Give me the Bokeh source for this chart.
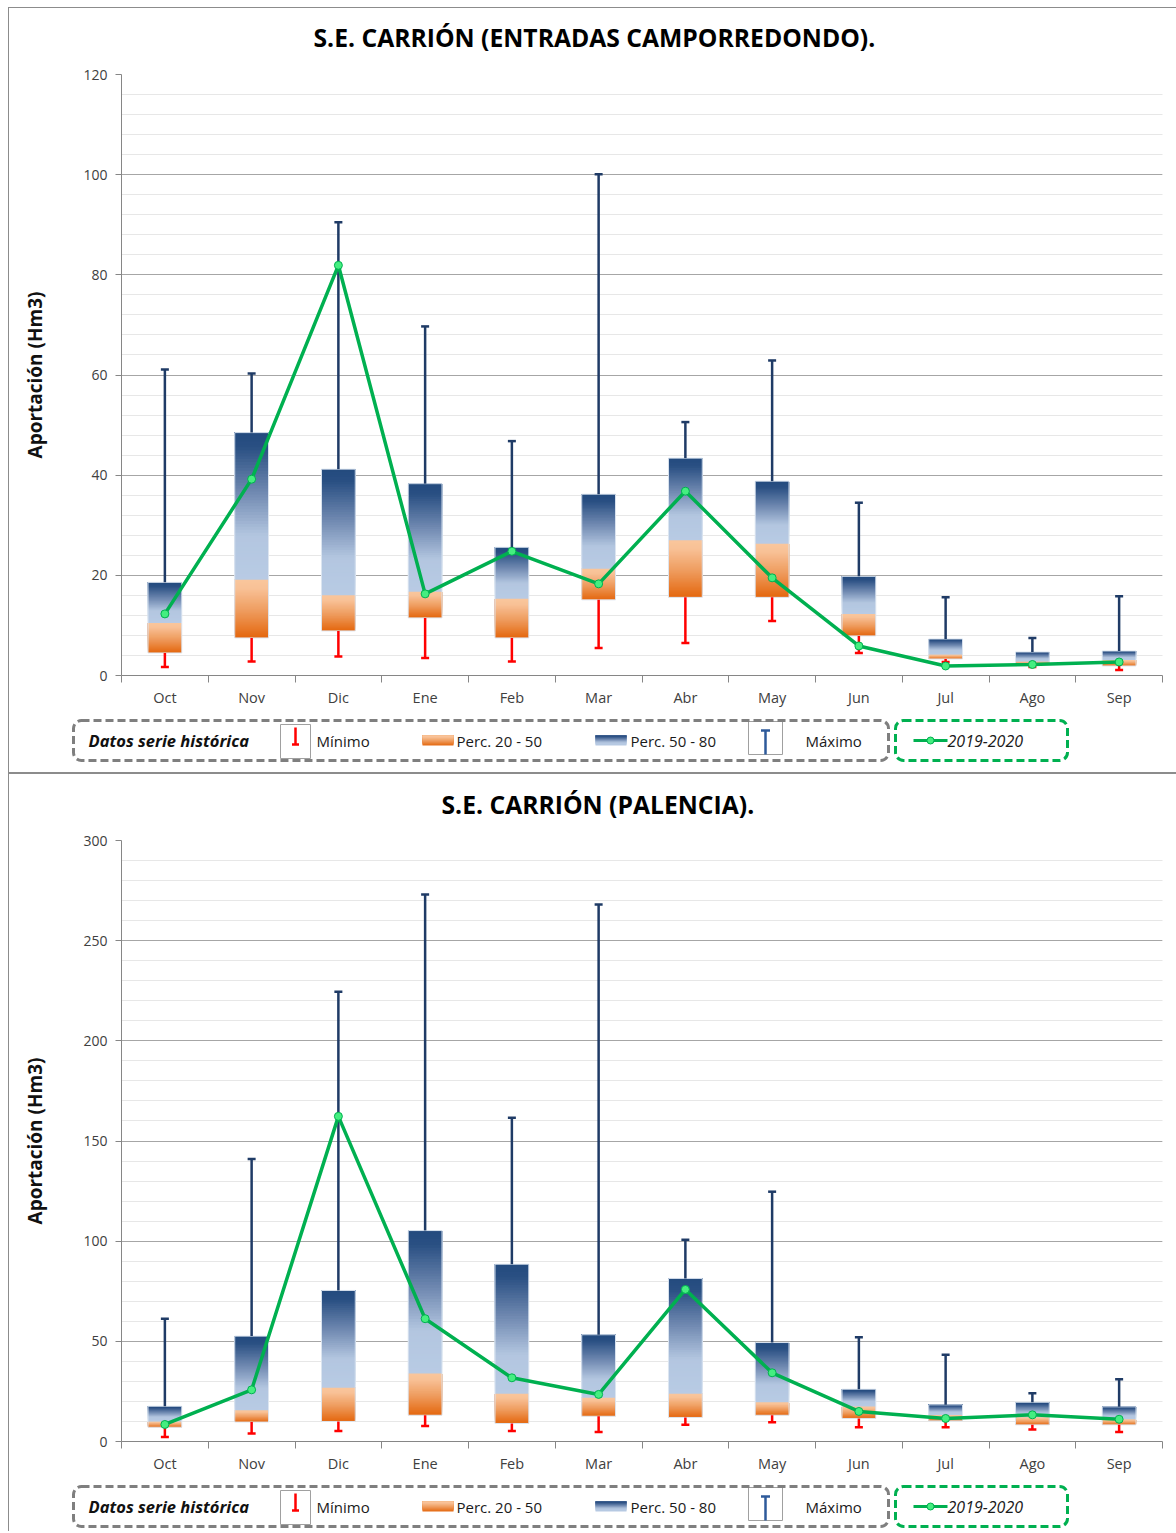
import numpy as np
from bokeh.plotting import figure
from bokeh.models import Range1d, FixedTicker, BoxAnnotation, Title
from bokeh.core.properties import value
from bokeh.embed import file_html
from bokeh.resources import INLINE

months = ["Oct", "Nov", "Dic", "Ene", "Feb", "Mar", "Abr", "May", "Jun", "Jul", "Ago", "Sep"]

# --- S.E. CARRIÓN (ENTRADAS CAMPORREDONDO) ---
c1_min = [1.7, 2.8, 3.8, 3.5, 2.8, 5.5, 6.5, 10.9, 4.5, 2.7, 1.7, 1.1]
c1_p20 = [4.5, 7.5, 8.9, 11.5, 7.5, 15.1, 15.6, 15.6, 7.9, 3.3, 2.3, 1.9]
c1_p50 = [10.5, 19.1, 16.0, 16.7, 15.3, 21.3, 27.0, 26.3, 12.3, 4.2, 2.8, 3.1]
c1_p80 = [18.6, 48.5, 41.2, 38.3, 25.6, 36.2, 43.4, 38.8, 19.8, 7.3, 4.7, 4.9]
c1_max = [61.1, 60.3, 90.5, 69.7, 46.8, 100.1, 50.6, 62.9, 34.5, 15.6, 7.5, 15.8]
c1_cur = [12.3, 39.2, 81.9, 16.3, 24.8, 18.3, 36.8, 19.5, 5.9, 1.9, 2.2, 2.7]

# --- S.E. CARRIÓN (PALENCIA) ---
c2_min = [2.2, 4.0, 5.2, 7.7, 5.3, 4.7, 8.3, 9.6, 7.1, 7.1, 6.0, 4.7]
c2_p20 = [7.1, 9.7, 10.0, 13.1, 9.0, 12.6, 12.0, 13.1, 11.5, 10.3, 8.3, 8.3]
c2_p50 = [10.0, 15.6, 26.8, 34.0, 23.8, 21.8, 23.8, 19.6, 17.5, 13.3, 12.1, 11.1]
c2_p80 = [17.6, 52.6, 75.4, 105.3, 88.5, 53.3, 81.4, 49.4, 26.1, 18.3, 19.6, 17.3]
c2_max = [61.3, 141.0, 224.5, 273.0, 161.6, 268.0, 100.7, 124.7, 52.1, 43.3, 24.1, 31.1]
c2_cur = [8.5, 25.8, 162.3, 61.3, 31.8, 23.5, 75.9, 34.3, 15.0, 11.5, 13.3, 11.1]

FONT = "Open Sans"
FRAME = "#8c8c8c"
BLUE_STOPS = [(0.0, "#234a7e"), (0.1, "#2a5083"), (0.4, "#6f88b0"), (0.7, "#b3c6e0"), (1.0, "#b8cbe4")]
ORANGE_STOPS = [(0.0, "#f9c69c"), (0.15, "#f8c196"), (0.55, "#ee9a5c"), (1.0, "#e4670e")]
W = 1168  # figure width (page has an 8px left offset, like the reference)


def _rgb(h):
    h = h.lstrip("#")
    return tuple(int(h[i:i + 2], 16) for i in (0, 2, 4))


def grad_color(stops, t):
    for (t0, c0), (t1, c1) in zip(stops[:-1], stops[1:]):
        if t <= t1:
            f = 0 if t1 == t0 else (t - t0) / (t1 - t0)
            a, b = _rgb(c0), _rgb(c1)
            return "#%02x%02x%02x" % tuple(int(round(a[i] + (b[i] - a[i]) * f)) for i in range(3))
    return stops[-1][1]


def grad_quads(p, xc, bottoms, tops, stops, half, n=50):
    # vertical gradient: stacked slices, each running up to the box top so that no seams show
    L, R, B, T, C = [], [], [], [], []
    for x, b, t in zip(xc, bottoms, tops):
        h = t - b
        for k in range(n):
            L.append(x - half)
            R.append(x + half)
            B.append(b + h * k / n)
            T.append(t)
            C.append(grad_color(stops, 1 - (k + 0.5) / n))
    p.quad(left=L, right=R, bottom=B, top=T, fill_color=C, line_color=None)


def make_main(title, title_offset, ymax, major, minor, mins, p20, p50, p80, maxs, cur,
              height, top_border, styles):
    p = figure(width=W, height=height, x_range=Range1d(0, 12), y_range=Range1d(0, ymax),
               output_backend="svg", toolbar_location=None,
               min_border_left=113, min_border_right=14, min_border_top=top_border, min_border_bottom=37)
    p.outline_line_color = None
    p.border_fill_alpha = 0
    p.styles = styles
    xc = [i + 0.5 for i in range(len(months))]
    half = 0.195
    # boxes
    grad_quads(p, xc, p20, p50, ORANGE_STOPS, half)
    grad_quads(p, xc, p50, p80, BLUE_STOPS, half)
    p.quad(left=[x - half for x in xc], right=[x + half for x in xc], bottom=p20, top=p80,
           fill_color=None, line_color="#dde6f1", line_width=1)
    # whiskers
    navy = "#1f3b66"
    p.segment(x0=xc, y0=p80, x1=xc, y1=maxs, line_color=navy, line_width=2.5)
    p.scatter(xc, maxs, marker="dash", size=8, line_color=navy, line_width=2.5)
    p.segment(x0=xc, y0=p20, x1=xc, y1=mins, line_color="#ff0000", line_width=2.5)
    p.scatter(xc, mins, marker="dash", size=8, line_color="#ff0000", line_width=2.5)
    # current year
    p.line(xc, cur, line_color="#00b050", line_width=3.5)
    p.scatter(xc, cur, size=8, fill_color="#45ee80", line_color="#00b050", line_width=1)

    # axes
    p.yaxis.ticker = FixedTicker(ticks=list(range(0, ymax + 1, major)),
                                 minor_ticks=list(range(0, ymax + 1, minor)))
    p.yaxis.minor_tick_line_color = None
    p.yaxis.major_tick_out = 6
    p.yaxis.major_tick_in = 0
    p.yaxis.major_label_standoff = 8
    p.yaxis.axis_line_color = "#868686"
    p.yaxis.major_tick_line_color = "#868686"
    p.yaxis.major_label_text_font = FONT
    p.yaxis.major_label_text_font_size = "14px"
    p.yaxis.major_label_text_color = "#404040"
    p.yaxis.axis_label = "Aportación (Hm3)"
    p.yaxis.axis_label_text_font = FONT
    p.yaxis.axis_label_text_font_size = "19px"
    p.yaxis.axis_label_text_font_style = "bold"
    p.yaxis.axis_label_text_color = "#111111"
    p.yaxis.axis_label_standoff = 32

    p.xaxis.ticker = FixedTicker(ticks=xc, minor_ticks=list(range(13)))
    p.xaxis.major_label_overrides = {x: m for x, m in zip(xc, months)}
    p.xaxis.major_tick_line_color = None
    p.xaxis.major_tick_out = 0
    p.xaxis.major_tick_in = 0
    p.xaxis.minor_tick_out = 7
    p.xaxis.minor_tick_in = 0
    p.xaxis.minor_tick_line_color = "#868686"
    p.xaxis.axis_line_color = "#868686"
    p.xaxis.major_label_standoff = 5
    p.xaxis.major_label_text_font = FONT
    p.xaxis.major_label_text_font_size = "14.5px"
    p.xaxis.major_label_text_color = "#404040"

    p.xgrid.grid_line_color = None
    p.ygrid.grid_line_color = "#a6a6a6"
    p.ygrid.minor_grid_line_color = "#cfcfcf"
    p.ygrid.minor_grid_line_dash = "1 1"

    p.title = Title(text=title, align="left", offset=title_offset, standoff=top_border - 37,
                    vertical_align="top",
                    text_font=FONT, text_font_size="24.7px", text_font_style="bold", text_color="#000000")
    return p


def make_legend(height, top, styles):
    # x data = page x; y data = pixels from the figure bottom
    lg = figure(width=W, height=height, x_range=Range1d(8, 8 + W), y_range=Range1d(0, height),
                output_backend="svg", toolbar_location=None, min_border=0)
    lg.axis.visible = False
    lg.grid.grid_line_color = None
    lg.outline_line_color = None
    lg.border_fill_alpha = 0
    lg.background_fill_alpha = 0
    lg.styles = styles
    Y = lambda off: height - (top + off)
    cy = Y(20)
    lg.add_layout(BoxAnnotation(left=73, right=888, top=Y(0), bottom=Y(40), fill_alpha=0,
                                line_color="#7f7f7f", line_alpha=1, line_width=3, line_dash="8 4",
                                border_radius=8))
    lg.add_layout(BoxAnnotation(left=895, right=1067, top=Y(0), bottom=Y(40), fill_alpha=0,
                                line_color="#00b050", line_alpha=1, line_width=3, line_dash="8 4",
                                border_radius=8))
    tf = value(FONT)
    lg.text([88], [cy], text=["Datos serie histórica"], text_font=tf, text_font_size="16.5px",
            text_font_style="bold italic", text_baseline="middle", text_color="#111111")
    # minimum symbol
    lg.quad(left=[280], right=[310], top=[Y(4)], bottom=[Y(38)], fill_color="white", line_color="#a0a0a0")
    lg.segment(x0=[295], y0=[Y(7)], x1=[295], y1=[Y(24)], line_color="#ff0000", line_width=2.5)
    lg.scatter([295], [Y(24)], marker="dash", size=7, line_color="#ff0000", line_width=2.5)
    lg.text([316], [cy], text=["Mínimo"], text_font=tf, text_font_size="15px", text_baseline="middle",
            text_color="#1a1a1a")
    # percentile swatches
    grad_quads(lg, [437.5], [Y(25)], [Y(15)], ORANGE_STOPS, 15.5, n=10)
    lg.text([456], [cy], text=["Perc. 20 - 50"], text_font=tf, text_font_size="15px",
            text_baseline="middle", text_color="#1a1a1a")
    grad_quads(lg, [610.5], [Y(25)], [Y(15)], BLUE_STOPS, 15.5, n=10)
    lg.text([630], [cy], text=["Perc. 50 - 80"], text_font=tf, text_font_size="15px",
            text_baseline="middle", text_color="#1a1a1a")
    # maximum symbol
    lg.quad(left=[748], right=[782], top=[Y(1)], bottom=[Y(34)], fill_color="white", line_color="#a0a0a0")
    lg.segment(x0=[765], y0=[Y(10)], x1=[765], y1=[Y(34)], line_color="#2e5a9a", line_width=2.5)
    lg.scatter([765], [Y(10)], marker="dash", size=9, line_color="#2e5a9a", line_width=2.5)
    lg.text([805], [cy], text=["Máximo"], text_font=tf, text_font_size="15px", text_baseline="middle",
            text_color="#1a1a1a")
    # current year
    lg.segment(x0=[913], y0=[cy], x1=[947], y1=[cy], line_color="#00b050", line_width=3)
    lg.scatter([930], [cy], size=7, fill_color="#45ee80", line_color="#00b050")
    lg.text([947], [cy], text=["2019-2020"], text_font=tf, text_font_size="16px",
            text_font_style="italic", text_baseline="middle", text_color="#1a1a1a")
    return lg


# chart frames: a 1px grey line on the left and on top (drawn with inset shadows)
s_first = {"margin-left": "8px",
           "box-shadow": f"inset 0 7px 0 0 #ffffff, inset 1px 8px 0 0 {FRAME}"}
s_second = {"margin-left": "8px",
            "box-shadow": f"inset 1px 0 0 0 {FRAME}, inset 0 4px 0 0 #ffffff, inset 0 6px 0 0 {FRAME}"}
s_side = {"margin-left": "8px", "box-shadow": f"inset 1px 0 0 {FRAME}"}

p1 = make_main("S.E. CARRIÓN (ENTRADAS CAMPORREDONDO).", 192, 120, 20, 4,
               c1_min, c1_p20, c1_p50, c1_p80, c1_max, c1_cur, 712, 74, s_first)
l1 = make_legend(56, 8, s_side)
p2 = make_main("S.E. CARRIÓN (PALENCIA).", 320, 300, 50, 10,
               c2_min, c2_p20, c2_p50, c2_p80, c2_max, c2_cur, 710, 72, s_second)
l2 = make_legend(53, 8, s_side)

open("out.html", "w").write(file_html([p1, l1, p2, l2], INLINE))
